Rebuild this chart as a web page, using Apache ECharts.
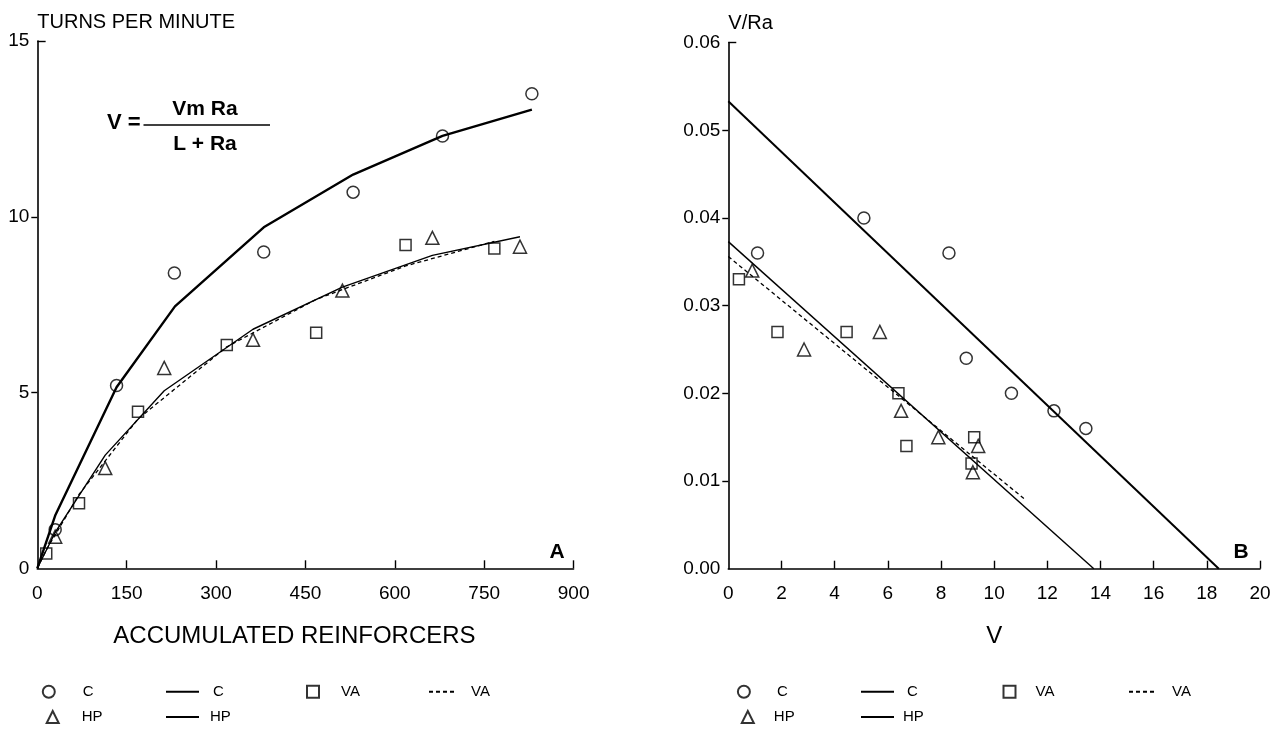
<!DOCTYPE html>
<html><head><meta charset="utf-8">
<script src="https://cdn.jsdelivr.net/npm/echarts@6/dist/echarts.min.js"></script>
<style>html,body{margin:0;padding:0;background:#fff}#c{width:1271px;height:730px}</style>
</head><body><div id="c"></div>
<script>
// ---- Panel A: accumulated reinforcers (x) vs turns per minute (y)
const aC_pts  = [[30,1.1],[133,5.2],[230,8.4],[380,9.0],[530,10.7],[680,12.3],[830,13.5]];
const aHP_pts = [[30,0.9],[114,2.85],[213,5.7],[362,6.5],[512,7.9],[663,9.4],[810,9.15]];
const aVA_pts = [[15,0.42],[70,1.85],[169,4.45],[318,6.35],[468,6.7],[618,9.2],[767,9.1]];
const aC_fit  = [[0,0],[30,1.5],[133,5.15],[231,7.45],[380,9.7],[530,11.2],[680,12.3],[830,13.05]];
const aHP_fit = [[0,0],[30,1.02],[114,3.22],[213,5.05],[362,6.8],[512,8.0],[663,8.9],[810,9.43]];
const aVA_fit = [[0,0],[15,0.52],[70,2.1],[169,4.25],[318,6.3],[468,7.65],[618,8.6],[767,9.3]];
const aXTicks = [0,150,300,450,600,750,900];
const aYTicks = [0,5,10,15];
// ---- Panel B: V (x) vs V/Ra (y)
const bC_pts  = [[1.1,0.036],[5.1,0.040],[8.3,0.036],[8.95,0.024],[10.65,0.020],[12.25,0.018],[13.45,0.016]];
const bHP_pts = [[0.9,0.034],[2.85,0.025],[5.7,0.027],[6.5,0.018],[7.9,0.015],[9.4,0.014],[9.2,0.011]];
const bVA_pts = [[0.4,0.033],[1.85,0.027],[4.45,0.027],[6.4,0.020],[6.7,0.014],[9.25,0.015],[9.15,0.012]];
const bC_fit  = [[0,0.0533],[18.45,0]];
const bHP_fit = [[0,0.0373],[13.75,0]];
const bVA_fit = [[0,0.0356],[11.2,0.0078]];
const bXTicks = [0,2,4,6,8,10,12,14,16,18,20];
const bYTicks = [0,0.01,0.02,0.03,0.04,0.05,0.06];

const FF = '"Liberation Sans", Arial, Helvetica, sans-serif';
const K = '#000';

function xAx(gi, ticks, name){
  const step = ticks[1]-ticks[0];
  return {
    type:'value', gridIndex:gi, min:ticks[0], max:ticks[ticks.length-1], interval:step,
    name:name, nameLocation:'middle', nameGap:56,
    nameTextStyle:{fontFamily:FF, fontSize:24, color:K, padding: gi===0?[0,22,0,0]:[0,0,0,0]},
    axisLine:{show:true, onZero:false, lineStyle:{color:K, width:1.6}},
    axisTick:{show:true, inside:true, length:8, lineStyle:{color:K, width:1.4}, customValues:ticks.slice(1)},
    axisLabel:{margin:16, fontFamily:FF, fontSize:19, color:K},
    splitLine:{show:false}
  };
}
function yAx(gi, ticks, name, fmt){
  const step = ticks[1]-ticks[0];
  return {
    type:'value', gridIndex:gi, min:ticks[0], max:ticks[ticks.length-1], interval:step,
    name:name, nameLocation:'end', nameGap:9,
    nameTextStyle:{fontFamily:FF, fontSize:20, color:K, align:'left'},
    axisLine:{show:true, onZero:false, lineStyle:{color:K, width:1.6}},
    axisTick:{show:true, inside:false, length:6, lineStyle:{color:K, width:1.4}, customValues:ticks.slice(1,ticks.length-1)},
    axisLabel:{margin:8, fontFamily:FF, fontSize:19, color:K, formatter:fmt},
    splitLine:{show:false}
  };
}
function fitLine(name, gi, data, width, dashed, stub){
  const s = {
    name:name, type:'line', xAxisIndex:gi, yAxisIndex:gi, data:data,
    symbol:'none', showSymbol:false, silent:true, z:2,
    itemStyle:{color:'rgba(0,0,0,0)', borderColor:'rgba(0,0,0,0)'},
    lineStyle:{color:K, width:width, type: dashed ? [4,3] : 'solid'}
  };
  if (stub) {
    s.markLine = {silent:true, symbol:'none', label:{show:false},
      lineStyle:{color:K, width:1.4, type:'solid'},
      data:[[{coord:stub[0]},{coord:stub[1]}]]};
  }
  return s;
}
function pts(name, gi, data, sym, size){
  return {
    name:name, type:'scatter', xAxisIndex:gi, yAxisIndex:gi, data:data,
    symbol:sym, symbolSize:size, silent:true, z:3,
    itemStyle:{color:'rgba(255,255,255,0)', borderColor:K, borderWidth:1.5}
  };
}
function lg(name, left, cy, w, h, pad, isLine){
  const o = {
    data:[name], left:left, top:cy-7.5, itemWidth:w, itemHeight:h, padding:0,
    selectedMode:false, formatter:n=>n.split('|')[0],
    textStyle:{fontFamily:FF, fontSize:15, color:K, padding:[0,0,0,pad]}
  };
  if (isLine) o.itemStyle = {opacity:0};
  return o;
}

const option = {
  animation:false,
  backgroundColor:'#fff',
  grid:[
    {left:37.3, top:41, width:536.3, height:527.3, containLabel:false, outerBoundsMode:'none'},
    {left:728.3, top:42.6, width:531.7, height:526.1, containLabel:false, outerBoundsMode:'none'}
  ],
  xAxis:[ xAx(0, aXTicks, 'ACCUMULATED REINFORCERS'), xAx(1, bXTicks, 'V') ],
  yAxis:[ yAx(0, aYTicks, 'TURNS PER MINUTE', v=>String(v)), yAx(1, bYTicks, 'V/Ra', v=>v.toFixed(2)) ],
  series:[
    fitLine('C|fitA', 0, aC_fit, 2.4, false, [[0,15],[14,15]]),
    fitLine('HP|fitA', 0, aHP_fit, 1.4, false),
    fitLine('VA|fitA', 0, aVA_fit, 1.3, true),
    pts('C|ptsA', 0, aC_pts, 'circle', 12),
    pts('HP|ptsA', 0, aHP_pts, 'triangle', 13),
    pts('VA|ptsA', 0, aVA_pts, 'rect', 11),
    fitLine('C|fitB', 1, bC_fit, 2.0, false, [[0,0.06],[0.3,0.06]]),
    fitLine('HP|fitB', 1, bHP_fit, 1.4, false),
    fitLine('VA|fitB', 1, bVA_fit, 1.3, true),
    pts('C|ptsB', 1, bC_pts, 'circle', 12),
    pts('HP|ptsB', 1, bHP_pts, 'triangle', 13),
    pts('VA|ptsB', 1, bVA_pts, 'rect', 11)
  ],
  legend:[
    lg('C|ptsA', 41.8, 691.7, 12, 12, 23),
    lg('C|fitA', 165, 691.7, 33, 14, 9, true),
    lg('VA|ptsA', 306, 691.7, 12, 12, 17),
    lg('VA|fitA', 428, 691.7, 25, 14, 12, true),
    lg('HP|ptsA', 45.7, 717, 12, 12, 18),
    lg('HP|fitA', 165, 717, 33, 14, 6, true),
    lg('C|ptsB', 736.9, 691.7, 12, 12, 22),
    lg('C|fitB', 860, 691.7, 33, 14, 8, true),
    lg('VA|ptsB', 1002.5, 691.7, 12, 12, 15),
    lg('VA|fitB', 1128, 691.7, 26, 14, 12, true),
    lg('HP|ptsB', 740.8, 717, 12, 12, 15),
    lg('HP|fitB', 860, 717, 33, 14, 4, true)
  ],
  graphic:[
    {type:'text', x:107, y:123, style:{text:'V =', fontFamily:FF, fontSize:22, fontWeight:'bold', fill:K, align:'left', verticalAlign:'middle'}},
    {type:'text', x:205, y:109, style:{text:'Vm Ra', fontFamily:FF, fontSize:21, fontWeight:'bold', fill:K, align:'center', verticalAlign:'middle'}},
    {type:'line', shape:{x1:143.5, y1:125, x2:270, y2:125}, style:{stroke:K, lineWidth:1.5}},
    {type:'text', x:205, y:144, style:{text:'L + Ra', fontFamily:FF, fontSize:21, fontWeight:'bold', fill:K, align:'center', verticalAlign:'middle'}},
    {type:'text', x:557, y:552, style:{text:'A', fontFamily:FF, fontSize:21, fontWeight:'bold', fill:K, align:'center', verticalAlign:'middle'}},
    {type:'text', x:1241, y:552, style:{text:'B', fontFamily:FF, fontSize:21, fontWeight:'bold', fill:K, align:'center', verticalAlign:'middle'}}
  ]
};
const chart = echarts.init(document.getElementById('c'), null, {renderer:'canvas'});
chart.setOption(option);
</script>
</body></html>
